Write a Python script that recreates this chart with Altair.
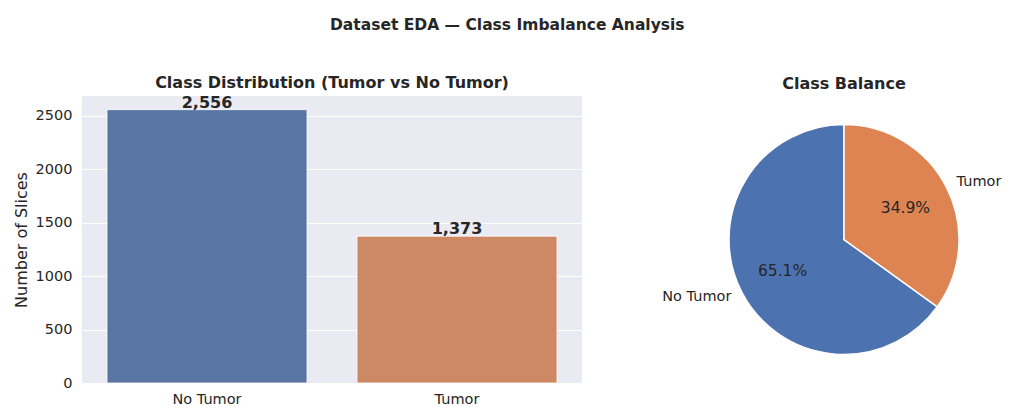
import altair as alt
import pandas as pd

classes = ["No Tumor", "Tumor"]
counts = [2556, 1373]
pie_order = [1, 0]
y_ticks = [0, 500, 1000, 1500, 2000, 2500]
bar_colors = ["#5975a4", "#cc8963"]
pie_colors = ["#4c72b0", "#dd8452"]

FONT = "DejaVu Sans"
TXT = "#262626"

df = pd.DataFrame({"cls": classes, "count": counts, "ord": pie_order})
total = sum(counts)
df["pct"] = df["count"] / total * 100
df["pct_label"] = df["pct"].map(lambda v: f"{v:.1f}%")

base = alt.Chart(df)

x_enc = alt.X(
    "cls:N", sort=classes,
    scale=alt.Scale(paddingInner=0.2, paddingOuter=0.1),
    axis=alt.Axis(title=None, labelAngle=0, ticks=False, domain=False, grid=False,
                  labelFontSize=14.5, labelPadding=9, labelColor=TXT, labelFont=FONT),
)
y_enc = alt.Y(
    "count:Q",
    scale=alt.Scale(domain=[0, max(counts) * 1.05], nice=False),
    axis=alt.Axis(values=y_ticks, format="d", title="Number of Slices", ticks=False,
                  domain=False, gridColor="white", gridWidth=1.2, labelFontSize=14.5,
                  labelColor=TXT, labelFont=FONT, labelPadding=10, titleFontSize=16,
                  titleFont=FONT, titleColor=TXT, titleFontWeight="normal",
                  titlePadding=6),
)

bars = base.mark_bar(stroke="white", strokeWidth=0.8).encode(
    x=x_enc, y=y_enc,
    color=alt.Color("cls:N", scale=alt.Scale(domain=classes, range=bar_colors), legend=None),
)
bar_text = base.mark_text(fontWeight="bold", fontSize=16, baseline="bottom", dy=1,
                          font=FONT, color=TXT).encode(
    x=alt.X("cls:N", sort=classes), y="count:Q",
    text=alt.Text("count:Q", format=","),
)
bar_chart = alt.layer(bars, bar_text).properties(
    width=500, height=287,
    view=alt.ViewBackground(fill="#eaeaf2", stroke=None),
    title=alt.TitleParams("Class Distribution (Tumor vs No Tumor)", fontSize=16,
                          fontWeight="bold", font=FONT, color=TXT, offset=4),
)

pie_base = base.transform_window(
    cum="sum(pct)", sort=[alt.SortField("ord")], frame=[None, 0]
).transform_calculate(mid="datum.cum - datum.pct / 2")

theta_scale = alt.Scale(domain=[0, 100])
arcs = pie_base.mark_arc(outerRadius=115, stroke="white", strokeWidth=1.5).encode(
    theta=alt.Theta("pct:Q", stack=True, scale=theta_scale),
    order=alt.Order("ord:Q"),
    color=alt.Color("cls:N", scale=alt.Scale(domain=classes, range=pie_colors), legend=None),
)
pct_text = pie_base.mark_text(fontSize=15.5, font=FONT, color=TXT).encode(
    theta=alt.Theta("mid:Q", stack=None, scale=theta_scale),
    radius=alt.value(69),
    text="pct_label:N",
)
lab_right = pie_base.transform_filter("datum.mid < 50").mark_text(
    fontSize=14.5, font=FONT, color=TXT, align="left", baseline="middle").encode(
    theta=alt.Theta("mid:Q", stack=None, scale=theta_scale),
    radius=alt.value(126.5),
    text="cls:N",
)
lab_left = pie_base.transform_filter("datum.mid >= 50").mark_text(
    fontSize=14.5, font=FONT, color=TXT, align="right", baseline="middle").encode(
    theta=alt.Theta("mid:Q", stack=None, scale=theta_scale),
    radius=alt.value(126.5),
    text="cls:N",
)
pie_chart = alt.layer(arcs, pct_text, lab_right, lab_left).properties(
    width=300, height=287,
    view=alt.ViewBackground(fill="white", stroke=None),
    title=alt.TitleParams("Class Balance", fontSize=16, fontWeight="bold",
                          font=FONT, color=TXT, offset=4),
)

chart = alt.hconcat(bar_chart, pie_chart, spacing=112, bounds="flush").resolve_scale(
    color="independent"
).properties(
    title=alt.TitleParams("Dataset EDA — Class Imbalance Analysis", fontSize=15.5,
                          fontWeight="bold", font=FONT, color=TXT, anchor="middle",
                          offset=41.5),
    padding={"left": 5, "top": 9, "right": 5, "bottom": 5},
).configure_view(
    stroke=None
)

chart.save("out.html", embed_options={"renderer": "svg", "actions": False})
